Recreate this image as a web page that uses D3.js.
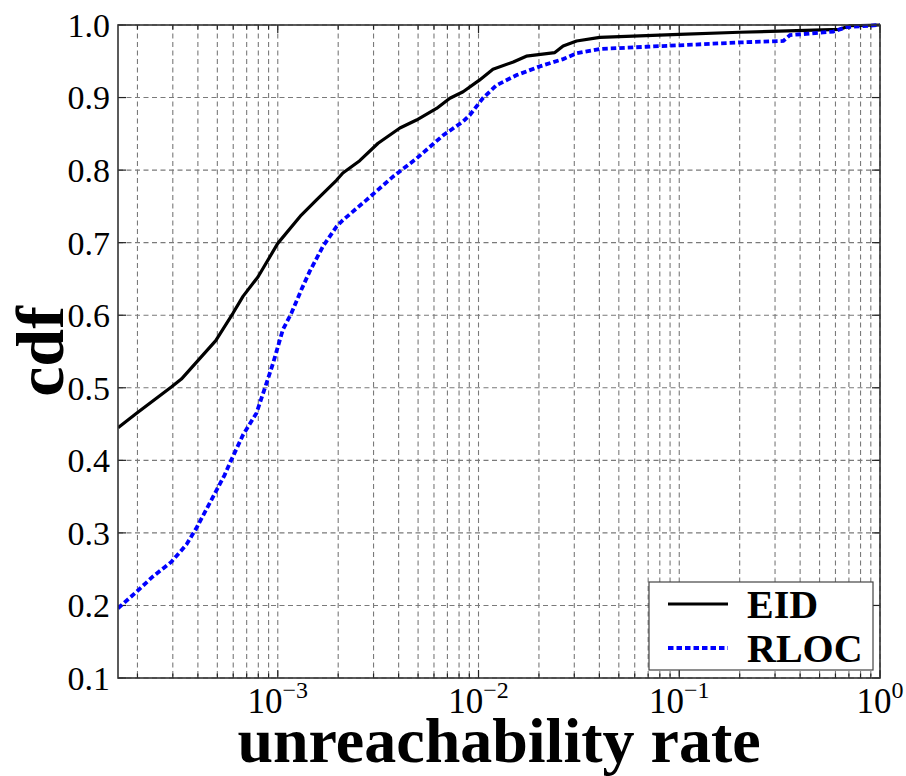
<!DOCTYPE html>
<html>
<head>
<meta charset="utf-8">
<script src="https://cdn.jsdelivr.net/npm/d3@7/dist/d3.min.js"></script>
<style>
  html, body { margin: 0; padding: 0; background: #fff; }
  svg { display: block; }
</style>
</head>
<body>
<svg id="chart" width="906" height="776"></svg>
<script>
// CDF of unreachability rate for EID and RLOC probes
const eidRate = [1.6e-4, 1.98e-4, 2.95e-4, 3.31e-4, 4.91e-4, 5.99e-4, 6.71e-4, 7.98e-4,
  1.0e-3, 1.31e-3, 1.56e-3, 1.96e-3, 2.11e-3, 2.56e-3, 3.16e-3, 4.06e-3, 4.91e-3,
  6.18e-3, 7.2e-3, 8.38e-3, 1.01e-2, 1.18e-2, 1.49e-2, 1.73e-2, 2.4e-2, 2.64e-2,
  3.08e-2, 4.02e-2, 0.1, 0.2, 0.631, 0.708, 1.0];
const eidCdf = [0.445, 0.465, 0.501, 0.512, 0.565, 0.603, 0.626, 0.653,
  0.699, 0.738, 0.759, 0.786, 0.796, 0.813, 0.837, 0.858, 0.869,
  0.885, 0.899, 0.908, 0.924, 0.939, 0.949, 0.957, 0.962, 0.971,
  0.978, 0.983, 0.987, 0.990, 0.994, 0.999, 1.0];

const rlocRate = [1.6e-4, 1.98e-4, 2.39e-4, 2.95e-4, 3.51e-4, 3.94e-4, 4.58e-4, 5.44e-4,
  5.88e-4, 6.71e-4, 7.83e-4, 8.78e-4, 9.48e-4, 1.06e-3, 1.17e-3, 1.31e-3, 1.44e-3,
  1.68e-3, 1.96e-3, 2.11e-3, 2.77e-3, 3.75e-3, 4.91e-3, 6.67e-3, 8.38e-3, 9.06e-3,
  1.05e-2, 1.23e-2, 1.55e-2, 2.02e-2, 2.64e-2, 3.08e-2, 4.02e-2, 6.87e-2, 0.1,
  0.2, 0.33, 0.356, 0.585, 0.681, 1.0];
const rlocCdf = [0.196, 0.219, 0.240, 0.260, 0.284, 0.307, 0.341, 0.380,
  0.401, 0.435, 0.465, 0.506, 0.534, 0.580, 0.603, 0.635, 0.660,
  0.695, 0.722, 0.731, 0.759, 0.791, 0.816, 0.848, 0.867, 0.876,
  0.899, 0.917, 0.931, 0.943, 0.953, 0.961, 0.967, 0.970, 0.972,
  0.976, 0.978, 0.986, 0.991, 0.997, 1.0];

const yTicks = [0.1, 0.2, 0.3, 0.4, 0.5, 0.6, 0.7, 0.8, 0.9, 1.0];
const xTickExps = [-3, -2, -1, 0];
const seriesNames = ["EID", "RLOC"];

const svg = d3.select("#chart");
const pLeft = 118, pRight = 880, pTop = 25, pBottom = 678;
const serif = "'Liberation Serif', 'DejaVu Serif', serif";

const x = d3.scaleLog().domain([1.6e-4, 1]).range([pLeft, pRight]);
const y = d3.scaleLinear().domain([0.1, 1.0]).range([pBottom, pTop]);

// minor + major positions on the log axis
const minorVals = [];
for (let e = -4; e < 0; e++) {
  for (let m = 2; m <= 9; m++) {
    const v = m * Math.pow(10, e);
    if (v >= x.domain()[0] && v <= 1) minorVals.push(v);
  }
}
const majorVals = xTickExps.map(e => Math.pow(10, e));

const grid = svg.append("g").attr("stroke", "#7a7a7a").attr("stroke-width", 1.1)
  .attr("stroke-dasharray", "5,3.5").attr("fill", "none");
majorVals.concat(minorVals).forEach(v => {
  grid.append("line").attr("x1", x(v)).attr("x2", x(v)).attr("y1", pTop).attr("y2", pBottom);
});
yTicks.forEach(v => {
  grid.append("line").attr("x1", pLeft).attr("x2", pRight).attr("y1", y(v)).attr("y2", y(v));
});

// ticks on all four sides, pointing inward
const ticks = svg.append("g").attr("stroke", "#222").attr("stroke-width", 1.2);
majorVals.forEach(v => {
  ticks.append("line").attr("x1", x(v)).attr("x2", x(v)).attr("y1", pBottom).attr("y2", pBottom - 8);
  ticks.append("line").attr("x1", x(v)).attr("x2", x(v)).attr("y1", pTop).attr("y2", pTop + 8);
});
minorVals.forEach(v => {
  ticks.append("line").attr("x1", x(v)).attr("x2", x(v)).attr("y1", pBottom).attr("y2", pBottom - 4.5);
  ticks.append("line").attr("x1", x(v)).attr("x2", x(v)).attr("y1", pTop).attr("y2", pTop + 4.5);
});
yTicks.forEach(v => {
  ticks.append("line").attr("x1", pLeft).attr("x2", pLeft + 8).attr("y1", y(v)).attr("y2", y(v));
  ticks.append("line").attr("x1", pRight).attr("x2", pRight - 8).attr("y1", y(v)).attr("y2", y(v));
});

// curves
svg.append("clipPath").attr("id", "plotclip").append("rect")
  .attr("x", pLeft).attr("y", pTop - 3).attr("width", pRight - pLeft).attr("height", pBottom - pTop + 3);

const line = d3.line().x(d => x(d[0])).y(d => y(d[1]));
const curves = svg.append("g").attr("clip-path", "url(#plotclip)");
curves.append("path")
  .datum(eidRate.map((r, i) => [r, eidCdf[i]]))
  .attr("d", line).attr("fill", "none").attr("stroke", "#000").attr("stroke-width", 3.2)
  .attr("stroke-linejoin", "round");
curves.append("path")
  .datum(rlocRate.map((r, i) => [r, rlocCdf[i]]))
  .attr("d", line).attr("fill", "none").attr("stroke", "#0000ff").attr("stroke-width", 3.8)
  .attr("stroke-dasharray", "5.5,3");

// frame
svg.append("rect").attr("x", pLeft).attr("y", pTop).attr("width", pRight - pLeft).attr("height", pBottom - pTop)
  .attr("fill", "none").attr("stroke", "#333").attr("stroke-width", 1.6);

// y tick labels
svg.append("g").selectAll("text").data(yTicks).join("text")
  .attr("x", pLeft - 8).attr("y", d => y(d)).attr("dy", "0.35em")
  .attr("text-anchor", "end").attr("font-family", serif).attr("font-size", 34)
  .text(d => d3.format(".1f")(d));

// x tick labels as powers of ten
const xl = svg.append("g").selectAll("text").data(xTickExps).join("text")
  .attr("x", d => x(Math.pow(10, d))).attr("y", 713)
  .attr("text-anchor", "middle").attr("font-family", serif).attr("font-size", 35);
xl.append("tspan").text("10");
xl.append("tspan").attr("dy", -15).attr("font-size", 24).text(d => d === 0 ? "0" : "\u2212" + Math.abs(d));

// axis titles
svg.append("text").attr("x", (pLeft + pRight) / 2).attr("y", 762)
  .attr("text-anchor", "middle").attr("font-family", serif).attr("font-weight", "bold")
  .attr("font-size", 64).text("unreachability rate");
svg.append("text").attr("transform", `translate(63,${(pTop + pBottom) / 2}) rotate(-90)`)
  .attr("text-anchor", "middle").attr("font-family", serif).attr("font-weight", "bold")
  .attr("font-size", 68).text("cdf");

// legend
const lg = svg.append("g");
lg.append("rect").attr("x", 649).attr("y", 582).attr("width", 224).attr("height", 88)
  .attr("fill", "#fff").attr("stroke", "#444").attr("stroke-width", 1.2);
const legendStyles = [
  { stroke: "#000", width: 3.2, dash: null },
  { stroke: "#0000ff", width: 3.8, dash: "5.5,3" }
];
seriesNames.forEach((name, i) => {
  const cy = 604 + i * 44;
  const ln = lg.append("line").attr("x1", 668).attr("x2", 728).attr("y1", cy).attr("y2", cy)
    .attr("stroke", legendStyles[i].stroke).attr("stroke-width", legendStyles[i].width);
  if (legendStyles[i].dash) ln.attr("stroke-dasharray", legendStyles[i].dash);
  lg.append("text").attr("x", 747).attr("y", cy + 14).attr("font-family", serif)
    .attr("font-weight", "bold").attr("font-size", 40).text(name);
});
</script>
</body>
</html>
